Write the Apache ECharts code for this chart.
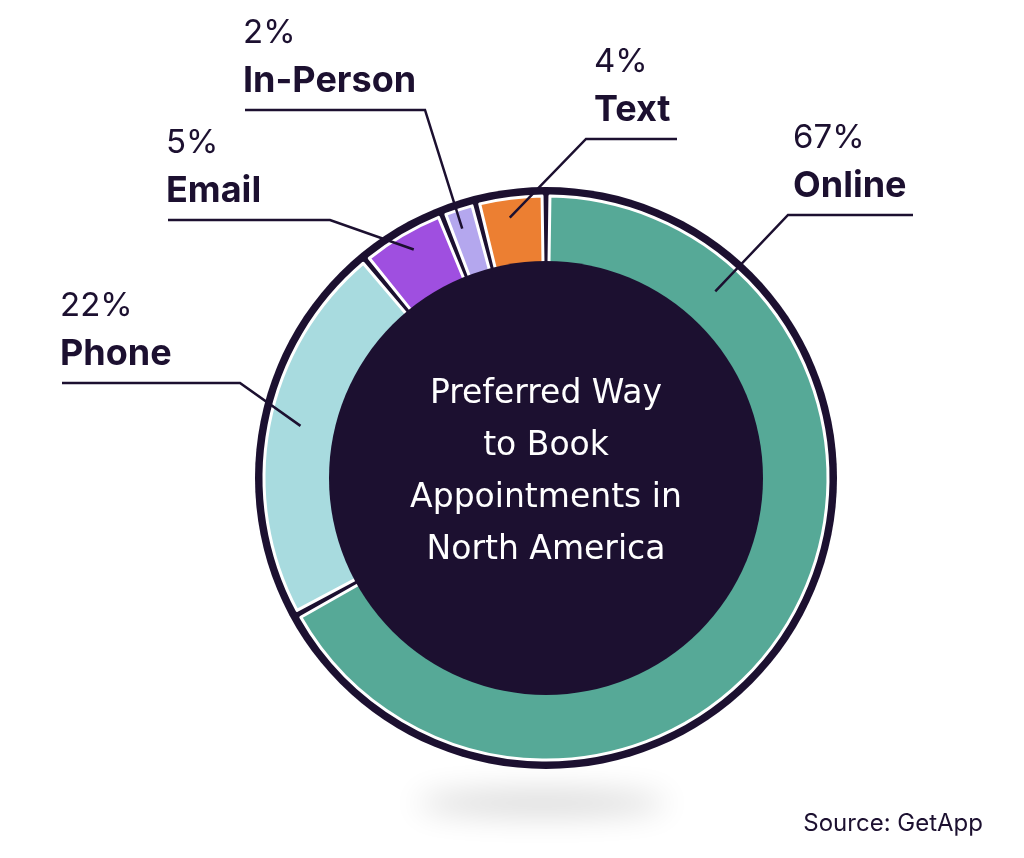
<!DOCTYPE html>
<html>
<head>
<meta charset="utf-8">
<title>Preferred Way to Book Appointments in North America</title>
<script src="https://cdn.jsdelivr.net/npm/echarts@6/dist/echarts.min.js"></script>
<style>
    html, body {
        margin: 0;
        padding: 0;
        background: #ffffff;
    }

    #chart {
        width: 1024px;
        height: 858px;
    }
</style>
</head>
<body>
<div id="chart"></div>
<script>
// data
const categories = ['Online', 'Phone', 'Email', 'In-Person', 'Text'];
const shares = [67, 22, 5, 2, 4];
const sliceColors = ['#56a997', '#a8dbdf', '#9f4fe0', '#b4a7ee', '#ec7f32'];
const centerTitle = ['Preferred Way', 'to Book', 'Appointments in', 'North America'];
const sourceNote = 'Source: GetApp';

// layout
const DARK = '#1c1030';
const CX = 546, CY = 478;
const R_RIM = 291;     // dark outline round the ring
const R_SLICE = 282;   // outer edge of the coloured slices
const R_HOLE = 217;    // dark disc in the middle
const FONT = 'Inter, "Noto Sans", sans-serif';

// leader lines: where they start inside the slice (share of sweep, radius),
// where they bend, where the flat part ends, and where the text starts
const callouts = [
    { at: 0.175, r: 252, knee: [788, 215], end: 913, textX: 793 },
    { at: 0.515, r: 251, knee: [240, 383], end: 62, textX: 60 },
    { at: 0.53, r: 264, knee: [330, 220], end: 168, textX: 166 },
    { at: 0.42, r: 263, knee: [425, 110], end: 245, textX: 243 },
    { at: 0.45, r: 263, knee: [586, 139], end: 677, textX: 594 }
];

const total = shares.reduce((a, b) => a + b, 0);
// start angle of every slice, clockwise from 12 o'clock (degrees)
const sliceStarts = shares.map((v, i) => shares.slice(0, i).reduce((a, b) => a + b, 0) / total * 360);

const anchorPoint = (i) => {
    const c = callouts[i];
    const deg = sliceStarts[i] + shares[i] / total * 360 * c.at;
    const rad = deg * Math.PI / 180;
    return [CX + c.r * Math.sin(rad), CY - c.r * Math.cos(rad)];
};

const pieData = categories.map((name, i) => ({
    name: name,
    value: shares[i],
    itemStyle: { color: sliceColors[i] }
}));

const chart = echarts.init(document.getElementById('chart'));
chart.setOption({
    backgroundColor: '#ffffff',
    animation: false,
    title: {
        text: sourceNote,
        right: 36,
        top: 807,
        textStyle: {
            fontFamily: FONT,
            fontSize: 24,
            fontWeight: 'normal',
            color: DARK
        }
    },
    graphic: [
        {
            // soft floor shadow under the ring (only the blurred shadow shows)
            type: 'ellipse',
            silent: true,
            shape: { cx: 542, cy: -1000, rx: 125, ry: 12 },
            style: {
                fill: '#000',
                shadowBlur: 30,
                shadowColor: 'rgba(0,0,0,0.16)',
                shadowOffsetY: 1803
            }
        }
    ],
    series: [
        {
            // dark rim behind the slices
            type: 'pie',
            silent: true,
            z: 1,
            center: [CX, CY],
            radius: [0, R_RIM],
            label: { show: false },
            labelLine: { show: false },
            itemStyle: { color: DARK },
            data: [{ value: 1, name: 'rim' }]
        },
        {
            // coloured slices
            type: 'pie',
            silent: true,
            z: 2,
            center: [CX, CY],
            radius: [200, R_SLICE],
            startAngle: 90,
            clockwise: true,
            padAngle: 1.6,
            itemStyle: {
                borderColor: '#ffffff',
                borderWidth: 3
            },
            label: { show: false },
            labelLine: { show: false },
            data: pieData
        },
        {
            // dark middle with the chart title
            type: 'pie',
            silent: true,
            z: 3,
            center: [CX, CY],
            radius: [0, R_HOLE],
            itemStyle: { color: DARK },
            labelLine: { show: false },
            label: {
                show: true,
                position: 'center',
                formatter: centerTitle.join('\n'),
                fontFamily: '"DejaVu Sans", sans-serif',
                fontSize: 33,
                fontWeight: 400,
                lineHeight: 52,
                color: '#ffffff',
                offset: [0, -6]
            },
            data: [{ value: 1, name: 'hole' }]
        },
        {
            // same slices again, invisible, carrying the callouts above everything
            type: 'pie',
            silent: true,
            z: 5,
            center: [CX, CY],
            radius: [200, R_SLICE],
            startAngle: 90,
            clockwise: true,
            padAngle: 1.6,
            avoidLabelOverlap: false,
            itemStyle: {
                color: 'rgba(0,0,0,0)',
                borderWidth: 0
            },
            label: {
                show: true,
                position: 'outside',
                formatter: (p) => `{p|${p.value}%}\n{n|${p.name}}`,
                rich: {
                    p: {
                        fontFamily: FONT,
                        fontSize: 33,
                        fontWeight: 400,
                        color: DARK,
                        lineHeight: 48
                    },
                    n: {
                        fontFamily: FONT,
                        fontSize: 36,
                        fontWeight: 700,
                        color: DARK,
                        lineHeight: 48
                    }
                }
            },
            labelLine: {
                show: true,
                showAbove: true,
                smooth: false,
                lineStyle: { color: DARK, width: 2.5 }
            },
            labelLayout: function (params) {
                const i = params.dataIndex;
                const c = callouts[i];
                const lineY = c.knee[1];
                return {
                    x: c.textX,
                    y: lineY - 5,
                    align: 'left',
                    verticalAlign: 'bottom',
                    labelLinePoints: [anchorPoint(i), c.knee, [c.end, lineY]]
                };
            },
            data: categories.map((name, i) => ({ name: name, value: shares[i] }))
        }
    ]
});
</script>
</body>
</html>
